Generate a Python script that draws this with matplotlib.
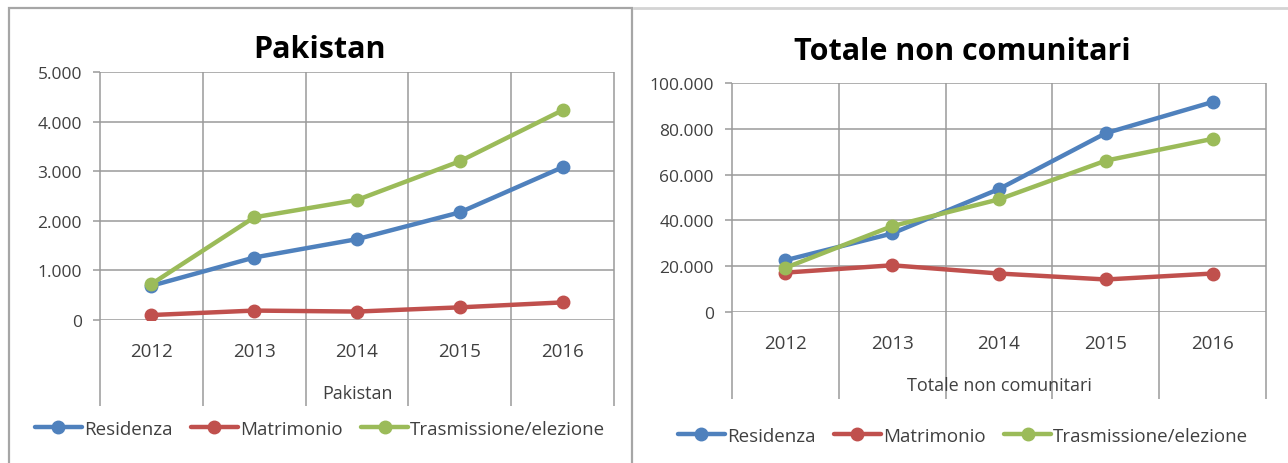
import numpy as np
import matplotlib.pyplot as plt
from matplotlib.ticker import FuncFormatter
from matplotlib.lines import Line2D
from matplotlib.patches import Rectangle

plt.rcParams['font.family'] = ['Open Sans', 'DejaVu Sans']

years = ['2012', '2013', '2014', '2015', '2016']
series_names = ['Residenza', 'Matrimonio', 'Trasmissione/elezione']
colors = ['#4F81BD', '#C0504D', '#9BBB59']

pakistan_residenza = [690, 1260, 1630, 2170, 3080]
pakistan_matrimonio = [100, 190, 170, 255, 355]
pakistan_trasmissione = [725, 2070, 2420, 3200, 4230]

totale_residenza = [22600, 34300, 53700, 78100, 91700]
totale_matrimonio = [17200, 20400, 16800, 14200, 16800]
totale_trasmissione = [19300, 37500, 49200, 66100, 75600]

W, H = 1288, 464
TXT = '#404040'
GRID = '#9a9a9a'


def it_fmt(v, pos):
    return f"{int(round(v)):,}".replace(",", ".")


def draw_chart(ax, series, ymax, ystep, xlabel, ext):
    x = np.arange(len(years)) + 0.5
    for vals, name, c in zip(series, series_names, colors):
        ax.plot(x, vals, color=c, lw=3.2, marker='o', ms=9, label=name,
                solid_capstyle='round', zorder=3)
    ax.set_xlim(0, len(years))
    ax.set_ylim(0, ymax)
    ax.set_yticks(np.arange(0, ymax + 1, ystep))
    ax.yaxis.set_major_formatter(FuncFormatter(it_fmt))
    ax.set_xticks(x)
    ax.set_xticklabels(years)
    for s in ax.spines.values():
        s.set_visible(False)
    ax.grid(axis='y', color=GRID, lw=1.1)
    ax.tick_params(axis='y', length=5, width=1.1, color=GRID, pad=8,
                   labelsize=12.5, labelcolor=TXT)
    ax.tick_params(axis='x', length=0, pad=16, labelsize=13.5, labelcolor=TXT)
    # category separators run down through the axis label area, Excel style
    ax.vlines(np.arange(len(years) + 1), ext, 1, transform=ax.get_xaxis_transform(),
              color=GRID, lw=1.1, clip_on=False, zorder=1)
    ax.set_xlabel(xlabel, fontsize=13, color=TXT, labelpad=17)


fig = plt.figure(figsize=(W / 100, H / 100), dpi=100)

ax1 = fig.add_axes([100 / W, 1 - 321 / H, 514 / W, 248 / H])
draw_chart(ax1, [pakistan_residenza, pakistan_matrimonio, pakistan_trasmissione],
           5000, 1000, 'Pakistan', (321 - 407) / 248)

ax2 = fig.add_axes([732 / W, 1 - 313 / H, 534 / W, 229 / H])
draw_chart(ax2, [totale_residenza, totale_matrimonio, totale_trasmissione],
           100000, 20000, 'Totale non comunitari', (313 - 400) / 229)

fig.text(320 / W, 1 - 50 / H, 'Pakistan', ha='center', va='center',
         fontsize=22, fontweight='bold')
fig.text(962 / W, 1 - 52 / H, 'Totale non comunitari', ha='center', va='center',
         fontsize=22, fontweight='bold')

for ax, cx, cy in [(ax1, 320, 430), (ax2, 963, 437)]:
    h, l = ax.get_legend_handles_labels()
    fig.legend(h, l, loc='center', bbox_to_anchor=(cx / W, 1 - cy / H), ncol=3,
               frameon=False, fontsize=13.5, handlelength=2.5, handletextpad=0.1,
               columnspacing=1.0, labelcolor=TXT)

# chart frames
fig.patches.append(Rectangle((9 / W, -0.1), 623 / W, 1.1 - 9 / H, transform=fig.transFigure,
                             fill=False, ec='#a6a6a6', lw=1.6))
fig.add_artist(Line2D([634 / W, 1], [1 - 9 / H, 1 - 9 / H], color='#d4d4d4', lw=2))

fig.savefig('out.png', dpi=100)
